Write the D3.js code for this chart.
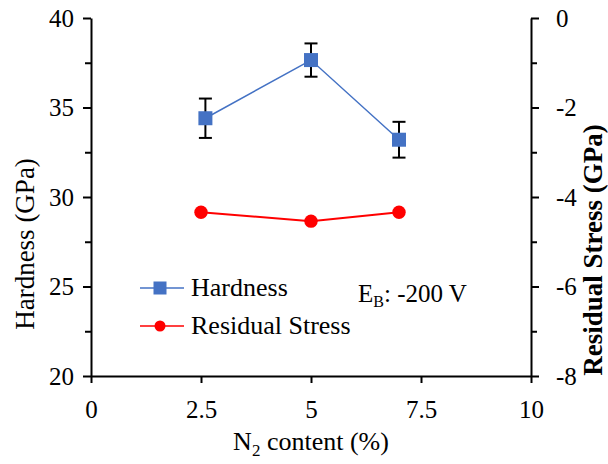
<!DOCTYPE html>
<html>
<head>
<meta charset="utf-8">
<script src="https://cdn.jsdelivr.net/npm/d3@7"></script>
<style>
  html, body { margin: 0; padding: 0; background: #fff; }
  svg text { font-family: "Liberation Serif", "Times New Roman", serif; fill: #000; }
</style>
</head>
<body>
<svg id="chart" width="608" height="464"></svg>
<script>
// N2 content (%) for each series
const hardnessX = [2.6, 5, 7];
const stressX = [2.5, 5, 7];
// Hardness (GPa) with error bars
const hardness = [34.4, 37.65, 33.2];
const hardnessErr = [1.1, 0.93, 1.0];
// Residual stress (GPa)
const stress = [-4.34, -4.54, -4.34];

const xTicks = [0, 2.5, 5, 7.5, 10];
const xTickLabels = ["0", "2.5", "5", "7.5", "10"];
const leftTicks = [20, 25, 30, 35, 40];
const leftMinor = [22.5, 27.5, 32.5, 37.5];
const rightTicks = [-8, -6, -4, -2, 0];
const rightMinor = [-7, -5, -3, -1];

const SERIF = '"Liberation Serif", "Times New Roman", serif';
const svg = d3.select("#chart");
const plotL = 91, plotR = 531, plotT = 18, plotB = 376;

const x = d3.scaleLinear().domain([0, 10]).range([plotL, plotR]);
const yL = d3.scaleLinear().domain([20, 40]).range([plotB, plotT]);
const yR = d3.scaleLinear().domain([-8, 0]).range([plotB, plotT]);

const FS = 25;

// Bottom axis
svg.append("g").attr("class", "ax").attr("transform", `translate(0,${plotB})`)
  .call(d3.axisBottom(x).tickValues(xTicks).tickFormat((d, i) => xTickLabels[i])
    .tickSize(7).tickSizeOuter(0).tickPadding(17));

// Left axis with minor ticks
svg.append("g").attr("class", "ax").attr("transform", `translate(${plotL},0)`)
  .call(d3.axisLeft(yL).tickValues(leftTicks).tickFormat(d3.format("d"))
    .tickSize(8).tickSizeOuter(0).tickPadding(9));
svg.append("g").attr("transform", `translate(${plotL},0)`)
  .call(d3.axisLeft(yL).tickValues(leftMinor).tickFormat("").tickSize(6).tickSizeOuter(0))
  .select(".domain").remove();

// Right axis with minor ticks
const rAxis = svg.append("g").attr("class", "ax").attr("transform", `translate(${plotR},0)`)
  .call(d3.axisRight(yR).tickValues(rightTicks).tickFormat(d3.format("d"))
    .tickSize(8).tickSizeOuter(0).tickPadding(17));
svg.append("g").attr("transform", `translate(${plotR},0)`)
  .call(d3.axisRight(yR).tickValues(rightMinor).tickFormat("").tickSize(6).tickSizeOuter(0))
  .select(".domain").remove();

svg.selectAll(".domain, .tick line").attr("stroke", "#000").attr("stroke-width", 2);
svg.selectAll(".ax").attr("font-family", null).style("font-family", SERIF);
svg.selectAll(".tick text")
  .style("font-family", SERIF).style("font-size", FS + "px").attr("fill", "#000");
rAxis.selectAll(".tick text").text(d => d === 0 ? "0" : "-" + Math.abs(d));

// Axis titles
const xt = svg.append("text").attr("x", (plotL + plotR) / 2).attr("y", 450)
  .attr("text-anchor", "middle").attr("font-size", FS + 1);
xt.append("tspan").text("N");
xt.append("tspan").attr("font-size", 17).attr("dy", 6).text("2");
xt.append("tspan").attr("dy", -6).text(" content (%)");

svg.append("text").attr("transform", "translate(34,244) rotate(-90)")
  .attr("text-anchor", "middle").attr("font-size", FS + 2).text("Hardness (GPa)");

svg.append("text").attr("transform", "translate(602,250) rotate(-90)")
  .attr("text-anchor", "middle").attr("font-size", FS + 2).attr("font-weight", "bold")
  .text("Residual Stress (GPa)");

// Hardness series
const blue = "#4472C4";
svg.append("path").datum(hardness)
  .attr("fill", "none").attr("stroke", blue).attr("stroke-width", 1.5)
  .attr("d", d3.line().x((d, i) => x(hardnessX[i])).y(d => yL(d)));

const eb = svg.append("g").attr("stroke", "#000").attr("stroke-width", 2);
hardness.forEach((v, i) => {
  const cx = x(hardnessX[i]);
  const y1 = yL(v + hardnessErr[i]), y2 = yL(v - hardnessErr[i]);
  eb.append("line").attr("x1", cx).attr("x2", cx).attr("y1", y1).attr("y2", y2);
  eb.append("line").attr("x1", cx - 6.5).attr("x2", cx + 6.5).attr("y1", y1).attr("y2", y1);
  eb.append("line").attr("x1", cx - 6.5).attr("x2", cx + 6.5).attr("y1", y2).attr("y2", y2);
});

svg.append("g").selectAll("rect").data(hardness).join("rect")
  .attr("x", (d, i) => x(hardnessX[i]) - 7).attr("y", d => yL(d) - 7)
  .attr("width", 14).attr("height", 14).attr("fill", blue);

// Residual stress series
const red = "#FF0000";
svg.append("path").datum(stress)
  .attr("fill", "none").attr("stroke", red).attr("stroke-width", 2)
  .attr("d", d3.line().x((d, i) => x(stressX[i])).y(d => yR(d)));
svg.append("g").selectAll("circle").data(stress).join("circle")
  .attr("cx", (d, i) => x(stressX[i])).attr("cy", d => yR(d))
  .attr("r", 6.7).attr("fill", red);

// Legend
const lg = svg.append("g");
lg.append("line").attr("x1", 140).attr("x2", 184).attr("y1", 288).attr("y2", 288)
  .attr("stroke", blue).attr("stroke-width", 1.5);
lg.append("rect").attr("x", 153.5).attr("y", 281.5).attr("width", 13).attr("height", 13).attr("fill", blue);
lg.append("text").attr("x", 191).attr("y", 296).attr("font-size", FS + 1).text("Hardness");
lg.append("line").attr("x1", 140).attr("x2", 184).attr("y1", 326).attr("y2", 326)
  .attr("stroke", red).attr("stroke-width", 1.5);
lg.append("circle").attr("cx", 160).attr("cy", 326).attr("r", 5.5).attr("fill", red);
lg.append("text").attr("x", 191).attr("y", 334).attr("font-size", FS + 1).text("Residual Stress");

// Bias voltage annotation
const ebText = svg.append("text").attr("x", 358).attr("y", 302).attr("font-size", FS);
ebText.append("tspan").text("E");
ebText.append("tspan").attr("font-size", 16).attr("dy", 5).text("B");
ebText.append("tspan").attr("dy", -5).text(": -200 V");
</script>
</body>
</html>
